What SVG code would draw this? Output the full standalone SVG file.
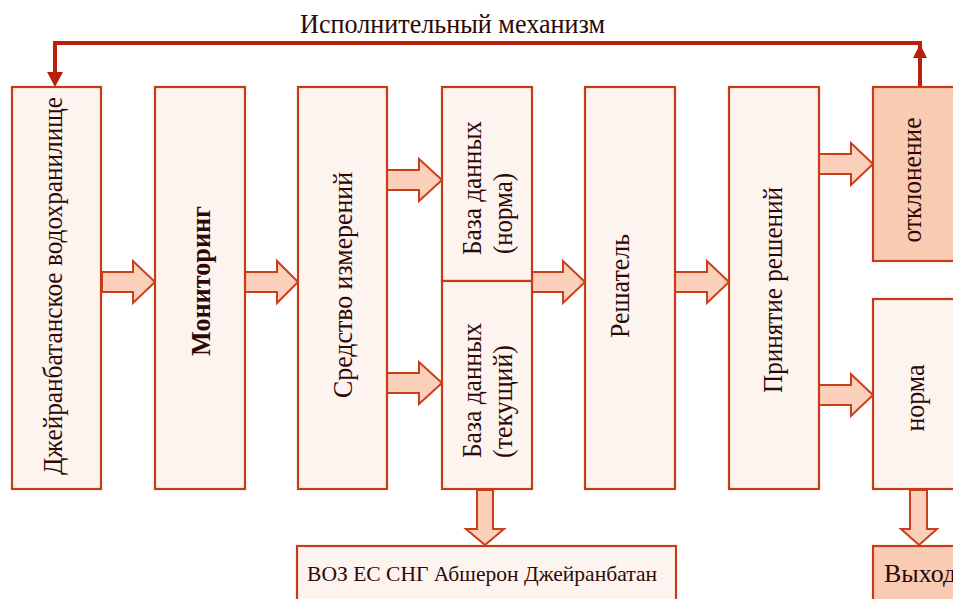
<svg xmlns="http://www.w3.org/2000/svg" width="953" height="599" viewBox="0 0 953 599">
  <style>
    .box { fill: #fdf3ef; stroke: #c63c18; stroke-width: 2.2; }
    .hot { fill: #f9cbb2; stroke: #c63c18; stroke-width: 2.2; }
    .blk { fill: #fbd0ba; stroke: #cc3d1a; stroke-width: 2; stroke-linejoin: miter; }
    .fb { fill: none; stroke: #b8200e; stroke-width: 4; }
    .fbh { fill: #b8200e; stroke: none; }
    text { font-family: "Liberation Serif", "Times New Roman", serif; fill: #2e0806; font-size: 28px; }
    .b { font-weight: bold; }
  </style>
  <rect width="953" height="599" fill="#ffffff"/>

  <g id="title">
    <text x="300" y="33" textLength="305" lengthAdjust="spacingAndGlyphs">Исполнительный механизм</text>
  </g>

  <g id="connectors">
    <path class="fb" d="M920,88 V43 H55 V74"/>
    <polygon class="fbh" points="913,58 920,44 927,58"/>
    <polygon class="fbh" points="47,72 63,72 55,87"/>
    <polygon class="blk" points="102,272 133,272 133,261 155,282 133,303 133,292 102,292"/>
    <polygon class="blk" points="245,272 277,272 277,261 298,282 277,303 277,292 245,292"/>
    <polygon class="blk" points="387,170 419,170 419,159 442,180 419,201 419,190 387,190"/>
    <polygon class="blk" points="387,373 419,373 419,362 442,383 419,404 419,393 387,393"/>
    <polygon class="blk" points="532,272 563,272 563,261 585,282 563,303 563,292 532,292"/>
    <polygon class="blk" points="675,272 707,272 707,261 729,282 707,303 707,292 675,292"/>
    <polygon class="blk" points="819,154 851,154 851,143 873,164 851,185 851,174 819,174"/>
    <polygon class="blk" points="819,385 851,385 851,374 873,395 851,416 851,405 819,405"/>
    <polygon class="blk" points="477,490 493,490 493,529 504,529 485,545 466,529 477,529"/>
    <polygon class="blk" points="910,490 927,490 927,529 937,529 919,545 901,529 910,529"/>
  </g>

  <g id="reservoir">
    <rect class="box" x="12" y="87" width="89" height="402"/>
    <text transform="translate(62,286) rotate(-90)" text-anchor="middle" textLength="378" lengthAdjust="spacingAndGlyphs">Джейранбатанское водохранилище</text>
  </g>
  <g id="monitoring">
    <rect class="box" x="155" y="87" width="90" height="402"/>
    <text class="b" transform="translate(210,281) rotate(-90)" text-anchor="middle" textLength="150" lengthAdjust="spacingAndGlyphs">Мониторинг</text>
  </g>
  <g id="measure">
    <rect class="box" x="298" y="87" width="89" height="402"/>
    <text transform="translate(352,285) rotate(-90)" text-anchor="middle" textLength="226" lengthAdjust="spacingAndGlyphs">Средство измерений</text>
  </g>
  <g id="db-norm">
    <rect class="box" x="442" y="87" width="90" height="194"/>
    <text transform="translate(481,255) rotate(-90)" textLength="134" lengthAdjust="spacingAndGlyphs">База данных</text>
    <text transform="translate(512,254) rotate(-90)" textLength="81" lengthAdjust="spacingAndGlyphs">(норма)</text>
  </g>
  <g id="db-current">
    <rect class="box" x="442" y="281" width="90" height="208"/>
    <text transform="translate(481,458) rotate(-90)" textLength="135" lengthAdjust="spacingAndGlyphs">База данных</text>
    <text transform="translate(512,458) rotate(-90)" textLength="113" lengthAdjust="spacingAndGlyphs">(текущий)</text>
  </g>
  <g id="solver">
    <rect class="box" x="585" y="87" width="90" height="402"/>
    <text transform="translate(629,286) rotate(-90)" text-anchor="middle" textLength="104" lengthAdjust="spacingAndGlyphs">Решатель</text>
  </g>
  <g id="decision">
    <rect class="box" x="729" y="87" width="90" height="402"/>
    <text transform="translate(782,290) rotate(-90)" text-anchor="middle" textLength="206" lengthAdjust="spacingAndGlyphs">Принятие решений</text>
  </g>
  <g id="deviation">
    <rect class="hot" x="873" y="87" width="100" height="174"/>
    <text transform="translate(921,180) rotate(-90)" text-anchor="middle" textLength="125" lengthAdjust="spacingAndGlyphs">отклонение</text>
  </g>
  <g id="norm">
    <rect class="box" x="873" y="299" width="100" height="190"/>
    <text transform="translate(924,398) rotate(-90)" text-anchor="middle" textLength="67" lengthAdjust="spacingAndGlyphs">норма</text>
  </g>
  <g id="orgs">
    <rect class="box" x="297" y="546" width="379" height="70"/>
    <text x="307" y="581" style="font-size:22px" textLength="350" lengthAdjust="spacingAndGlyphs">ВОЗ ЕС СНГ  Абшерон Джейранбатан</text>
  </g>
  <g id="output">
    <rect class="hot" x="873" y="546" width="100" height="70"/>
    <text x="884" y="582" style="font-size:26px">Выход</text>
  </g>
</svg>
